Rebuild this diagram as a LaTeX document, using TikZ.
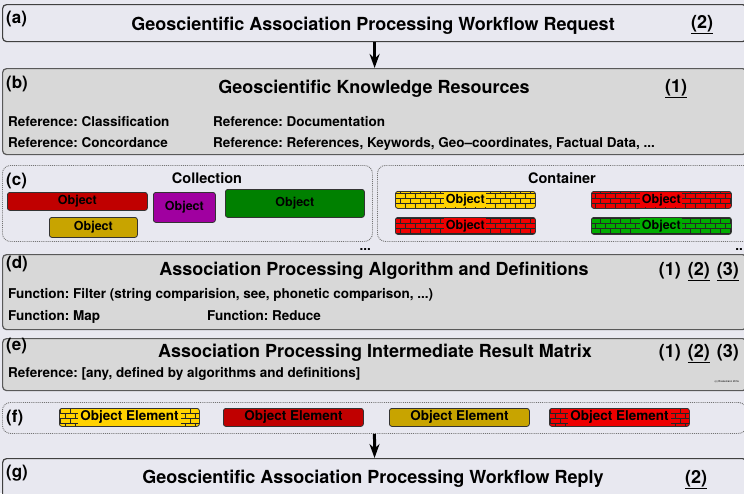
\documentclass[tikz,border=0pt]{standalone}
\usepackage{fontspec}
\setmainfont{TeX Gyre Heros}
\usepackage{tikz}
\usetikzlibrary{positioning,arrows.meta,patterns}
\frenchspacing

\definecolor{bgcol}{RGB}{232,232,240}
\definecolor{boxgray}{RGB}{216,216,216}
\definecolor{objred}{RGB}{192,0,0}
\definecolor{objolive}{RGB}{200,164,0}
\definecolor{objpurple}{RGB}{160,0,160}
\definecolor{objgreen}{RGB}{0,128,0}
\definecolor{brickyellow}{RGB}{255,210,0}
\definecolor{brickred}{RGB}{238,0,0}
\definecolor{brickgreen}{RGB}{0,172,0}

\pgfdeclarepatternformonly{smallbricks}{\pgfqpoint{-1pt}{-1pt}}{\pgfqpoint{11pt}{11pt}}{\pgfqpoint{10pt}{10pt}}{%
  \pgfsetlinewidth{0.7pt}
  \pgfpathmoveto{\pgfqpoint{0pt}{0pt}}\pgfpathlineto{\pgfqpoint{10pt}{0pt}}
  \pgfpathmoveto{\pgfqpoint{0pt}{5pt}}\pgfpathlineto{\pgfqpoint{10pt}{5pt}}
  \pgfpathmoveto{\pgfqpoint{0pt}{0pt}}\pgfpathlineto{\pgfqpoint{0pt}{5pt}}
  \pgfpathmoveto{\pgfqpoint{5pt}{5pt}}\pgfpathlineto{\pgfqpoint{5pt}{10pt}}
  \pgfusepath{stroke}}

\begin{document}
\begin{tikzpicture}[x=1pt,y=-1pt,>={Stealth[length=14pt,width=10pt]},font=\bfseries]
	\tikzstyle{panel}=[rectangle, rounded corners=4pt, draw=black!75, line width=1.2pt, fill=bgcol, anchor=north west, minimum width=744pt, inner sep=0pt]
	\tikzstyle{graypanel}=[panel, fill=boxgray, draw=black!65]
	\tikzstyle{frame}=[rectangle, rounded corners=8pt, draw=black!55, densely dotted, line width=0.9pt, anchor=north west, inner sep=0pt]
	\tikzstyle{obj}=[rectangle, rounded corners=2.5pt, draw=black!80, line width=0.8pt, anchor=north west, inner sep=0pt]
	\tikzstyle{brick}=[obj, pattern=smallbricks, pattern color=black!85, minimum width=140pt, minimum height=17pt]
	\tikzstyle{lbl}=[font=\fontsize{17}{19}\selectfont\bfseries, anchor=base west, inner sep=0pt]
	\tikzstyle{title}=[font=\fontsize{18}{20}\selectfont\bfseries, anchor=base, inner sep=0pt]
	\tikzstyle{reftext}=[font=\fontsize{13.5}{15}\selectfont\bfseries, anchor=base west, inner sep=0pt]
	\tikzstyle{head}=[font=\fontsize{14.5}{16}\selectfont\bfseries, anchor=base, inner sep=0pt]
	\tikzstyle{objtext}=[font=\fontsize{12.5}{14}\selectfont\bfseries, inner sep=1.5pt]
	\tikzstyle{elemtext}=[font=\fontsize{13.5}{15}\selectfont\bfseries, inner sep=2pt]
	
	\path[use as bounding box, fill=bgcol] (0,0) rectangle (744,493);
	\clip (0,0) rectangle (744,493);
	
	\node[panel, minimum height=37pt]      (a) at (2,4)   {};
	\node[graypanel, minimum height=86pt]  (b) at (2,68)  {};
	\node[frame, minimum width=370pt, minimum height=76pt] (coll) at (2,165) {};
	\node[frame, minimum width=380pt, minimum height=76pt] (cont) at (377,165) {};
	\node[graypanel, minimum height=75pt]  (d) at (2,254) {};
	\node[graypanel, minimum height=52pt]  (e) at (2,338) {};
	\node[frame, minimum width=744pt, minimum height=31pt] (f) at (2,402) {};
	\node[panel, minimum height=60pt]      (g) at (2,458) {};
	
	\node[lbl] (la) at (6,23)  {(a)};
	\node[lbl] (lb) at (6,88)  {(b)};
	\node[lbl] (lc) at (6,185) {(c)};
	\node[lbl] (ld) at (6,268) {(d)};
	\node[lbl] (le) at (6,350) {(e)};
	\node[lbl] (lf) at (6,422) {(f)};
	\node[lbl] (lg) at (6,477) {(g)};
	
	\node[title] (ta) at (373,30)  {Geoscientific Association Processing Workflow Request};
	\node[title] (na) at (702,28)  {\underline{(2)}};
	\node[title] (tb) at (374,93)  {Geoscientific Knowledge Resources};
	\node[title] (nb) at (676,92)  {\underline{(1)}};
	\node[title] (td) at (374,275) {Association Processing Algorithm and Definitions};
	\node[title, anchor=base east] (nd) at (739,275) {(1)\hspace{7pt}\underline{(2)}\hspace{7pt}\underline{(3)}};
	\node[title] (te) at (375,357) {Association Processing Intermediate Result Matrix};
	\node[title, anchor=base east] (ne) at (739,357) {(1)\hspace{7pt}\underline{(2)}\hspace{7pt}(3)};
	\node[title] (tg) at (373,483) {Geoscientific Association Processing Workflow Reply};
	\node[title] (ng) at (696,483) {\underline{(2)}};
	
	\node[reftext] (r1) at (8,126)   {Reference: Classification};
	\node[reftext] (r2) at (213,126) {Reference: Documentation};
	\node[reftext] (r3) at (8,147)   {Reference: Concordance};
	\node[reftext] (r4) at (213,147) {Reference: References, Keywords, Geo--coordinates, Factual Data, ...};
	\node[reftext] (f1) at (8,298)   {Function: Filter (string comparision, see, phonetic comparison, ...)};
	\node[reftext] (f2) at (8,320)   {Function: Map};
	\node[reftext] (f3) at (207,320) {Function: Reduce};
	\node[reftext] (r5) at (8,377)   {Reference: [any, defined by algorithms and definitions]};
	\node[font=\fontsize{2.6}{3}\selectfont, anchor=base east, inner sep=0pt] (copy) at (739,382) {(c) Rückemann 2016};
	
	\node[head] (hc) at (207,183) {Collection};
	\node[head] (hk) at (562,183) {Container};
	\node[reftext, anchor=base east] (dc) at (371,250) {...};
	\node[reftext, anchor=base east] (dk) at (743,250) {..};
	
	\node[obj, fill=objred, minimum width=140pt, minimum height=18pt]    (o1) at (7,192)   {};
	\node[obj, fill=objolive, minimum width=88pt, minimum height=20pt]   (o2) at (49,217)  {};
	\node[obj, fill=objpurple, minimum width=62pt, minimum height=30pt]  (o3) at (153,192) {};
	\node[obj, fill=objgreen, minimum width=139pt, minimum height=28pt]  (o4) at (225,189) {};
	\node[objtext] at (o1) {Object};
	\node[objtext] at (o2) {Object};
	\node[objtext] at (o3) {Object};
	\node[objtext] at (o4) {Object};
	
	\node[brick, preaction={fill=brickyellow}] (k1) at (395,191) {};
	\node[brick, preaction={fill=brickred}]    (k2) at (591,191) {};
	\node[brick, preaction={fill=brickred}]    (k3) at (395,217) {};
	\node[brick, preaction={fill=brickgreen}]  (k4) at (591,217) {};
	\node[objtext, fill=brickyellow] at (k1) {Object};
	\node[objtext, fill=brickred]    at (k2) {Object};
	\node[objtext, fill=brickred]    at (k3) {Object};
	\node[objtext, fill=brickgreen]  at (k4) {Object};
	
	\node[brick, preaction={fill=brickyellow}, minimum height=18pt] (e1) at (59,408) {};
	\node[obj, fill=objred, minimum width=140pt, minimum height=18pt]   (e2) at (223,408) {};
	\node[obj, fill=objolive, minimum width=140pt, minimum height=18pt] (e3) at (389,408) {};
	\node[brick, preaction={fill=brickred}, minimum height=18pt]    (e4) at (549,408) {};
	\node[elemtext, fill=brickyellow] at (e1) {Object Element};
	\node[elemtext] at (e2) {Object Element};
	\node[elemtext] at (e3) {Object Element};
	\node[elemtext, fill=brickred] at (e4) {Object Element};
	
	\draw[->, line width=3pt] (a) -- (b);
	\draw[->, line width=3pt] (f) -- (g);
	
\end{tikzpicture}
\end{document}
